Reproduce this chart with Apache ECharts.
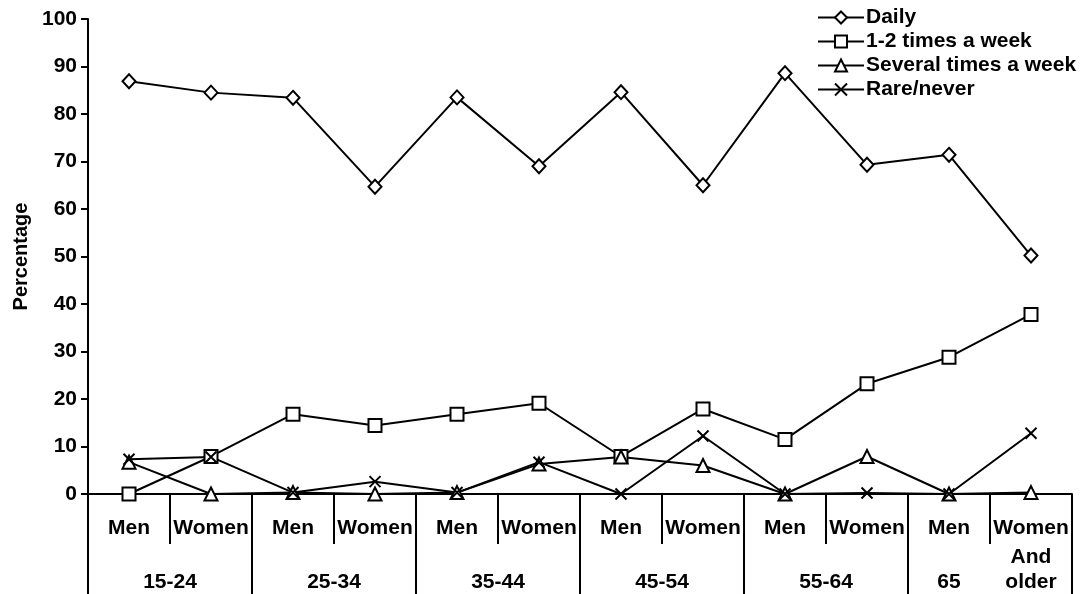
<!DOCTYPE html>
<html>
<head>
<meta charset="utf-8">
<script src="https://cdn.jsdelivr.net/npm/echarts@6/dist/echarts.min.js"></script>
<style>
html,body{margin:0;padding:0;background:#fff;}
#chart{width:1084px;height:594px;}
</style>
</head>
<body>
<div id="chart"></div>
<script>
const sexLabels = ['Men','Women','Men','Women','Men','Women','Men','Women','Men','Women','Men','Women'];
const groupLabels = ['15-24','25-34','35-44','45-54','55-64','65','And\nolder'];
const yTicks = [0,10,20,30,40,50,60,70,80,90,100];
const seriesNames = ['Daily','1-2 times a week','Several times a week','Rare/never'];
const daily   = [86.9, 84.5, 83.4, 64.7, 83.5, 69.0, 84.6, 65.0, 88.6, 69.3, 71.4, 50.2];
const weekly  = [0, 7.9, 16.8, 14.4, 16.8, 19.1, 7.9, 17.9, 11.5, 23.2, 28.8, 37.8];
const several = [6.7, 0, 0.3, 0, 0.3, 6.3, 7.8, 6.0, 0, 7.9, 0, 0.3];
const rare    = [7.3, 7.8, 0.3, 2.6, 0.3, 6.7, 0, 12.2, 0, 0.2, 0, 12.8];

// second-level axis: 25 evenly spaced points, group boundaries every 4
const groupAxis = [];
for (let k = 0; k <= 24; k++) groupAxis.push('');
const groupPos = [2, 6, 10, 14, 18, 21, 23];
groupPos.forEach((p, i) => {
  const l = groupLabels[i];
  groupAxis[p] = l.indexOf('\n') >= 0 ? l : '\n' + l;
});

const font = { fontFamily: 'Liberation Sans, Arial, sans-serif', fontWeight: 'bold', fontSize: 21, color: '#000' };
const crossPath = 'path://M0,0L10,10M10,0L0,10';
const symbols = ['diamond', 'rect', 'triangle', crossPath];
const sizes = [[13,14], 13, 13, 11];
const dataSets = [daily, weekly, several, rare];

const chart = echarts.init(document.getElementById('chart'));
chart.setOption({
  animation: false,
  backgroundColor: '#fff',
  grid: { left: 88, right: 12, top: 19, bottom: 100, containLabel: false, outerBoundsMode: 'none' },
  legend: {
    orient: 'vertical', left: 812, top: 2,
    itemWidth: 46, itemHeight: 15, itemGap: 3,
    textStyle: Object.assign({}, font, { padding: [0,0,0,-3] }),
    data: seriesNames
  },
  xAxis: [
    {
      type: 'category', data: sexLabels, position: 'bottom',
      axisLine: { lineStyle: { color: '#000', width: 2 } },
      axisTick: { show: true, interval: 0, length: 50, lineStyle: { color: '#000', width: 2 } },
      axisLabel: Object.assign({}, font, { interval: 0, margin: 24 })
    },
    {
      type: 'category', data: groupAxis, position: 'bottom', boundaryGap: false,
      axisLine: { show: false },
      axisTick: { show: true, length: 100, interval: (i) => i % 4 === 0, lineStyle: { color: '#000', width: 2 } },
      axisLabel: Object.assign({}, font, { interval: (i, v) => v !== '', margin: 51, lineHeight: 25 })
    }
  ],
  yAxis: {
    type: 'value', min: 0, max: 100, interval: 10,
    name: 'Percentage', nameLocation: 'middle', nameGap: 56,
    nameTextStyle: Object.assign({}, font, { fontSize: 20 }),
    axisLine: { show: true, lineStyle: { color: '#000', width: 2 } },
    axisTick: { show: true, length: 7, lineStyle: { color: '#000', width: 2 } },
    axisLabel: Object.assign({}, font, { margin: 11 }),
    splitLine: { show: false }
  },
  series: seriesNames.map((n, i) => ({
    name: n, type: 'line', xAxisIndex: 0, data: dataSets[i],
    symbol: symbols[i], symbolSize: sizes[i], showAllSymbol: true,
    lineStyle: { color: '#000', width: 2 },
    itemStyle: { color: i === 3 ? 'rgba(0,0,0,0)' : '#fff', borderColor: '#000', borderWidth: 2 },
    emphasis: { disabled: true }
  }))
});
</script>
</body>
</html>
